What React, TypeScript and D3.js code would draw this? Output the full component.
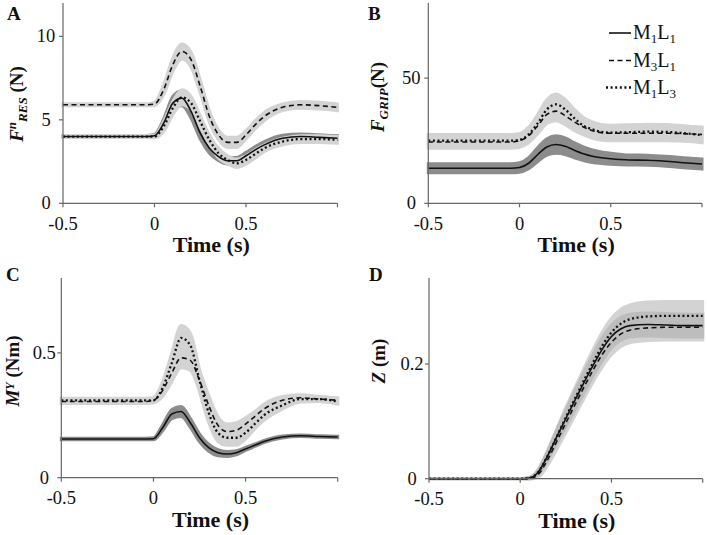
import React from "react";
import * as d3 from "d3";

const TIME = [-0.5, -0.05, 0, 0.05, 0.1, 0.15, 0.2, 0.25, 0.3, 0.35, 0.4, 0.45, 0.5, 0.55, 0.6, 0.7, 0.8, 0.9, 1.0];

// Panel A: F^n_RES (N)
const A_M1L1 = [4.0, 4.0, 4.05, 4.8, 6.0, 6.3, 5.5, 4.2, 3.3, 2.8, 2.55, 2.55, 2.85, 3.2, 3.5, 3.9, 4.0, 3.95, 3.9];
const A_M1L1_SD = [0.06, 0.06, 0.08, 0.25, 0.4, 0.45, 0.4, 0.35, 0.3, 0.25, 0.2, 0.2, 0.2, 0.2, 0.2, 0.18, 0.15, 0.15, 0.15];
const A_M3L1 = [5.9, 5.9, 5.95, 6.8, 8.3, 9.1, 8.6, 7.0, 5.2, 4.1, 3.65, 3.65, 4.1, 4.7, 5.2, 5.75, 5.9, 5.85, 5.75];
const A_M3L1_SD = [0.06, 0.06, 0.1, 0.3, 0.4, 0.45, 0.45, 0.4, 0.35, 0.3, 0.3, 0.3, 0.25, 0.25, 0.25, 0.2, 0.2, 0.2, 0.2];
const A_M1L3 = [4.0, 4.0, 4.0, 4.6, 5.7, 6.35, 6.0, 4.9, 3.8, 3.0, 2.6, 2.4, 2.6, 2.95, 3.3, 3.7, 3.85, 3.85, 3.8];
const A_M1L3_SD = [0.06, 0.06, 0.08, 0.3, 0.4, 0.45, 0.4, 0.35, 0.3, 0.3, 0.25, 0.25, 0.25, 0.25, 0.2, 0.2, 0.2, 0.2, 0.2];

// Panel B: F_GRIP (N)
const B_M1L1 = [14, 14, 14.3, 16, 19.5, 22.5, 23.5, 22.8, 21.2, 19.8, 18.8, 18.2, 17.8, 17.5, 17.3, 17.2, 16.8, 16.2, 15.7];
const B_M1L1_SD = [1.8, 1.8, 1.9, 2.2, 2.8, 3.3, 3.5, 3.3, 3.0, 2.7, 2.5, 2.3, 2.2, 2.1, 2.0, 2.0, 2.0, 2.0, 2.0];
const B_M3L1 = [24.5, 24.5, 25, 27, 31, 35.5, 36.8, 35, 32.5, 30.5, 29, 28.2, 28, 28, 28, 28, 28, 27.8, 27.5];
const B_M3L1_SD = [2.5, 2.5, 2.6, 2.8, 3.2, 3.6, 3.8, 3.6, 3.4, 3.2, 3.0, 3.0, 3.0, 3.0, 3.0, 3.0, 3.0, 3.0, 3.0];
const B_M1L3 = [25, 25, 25.3, 27.5, 32, 37.5, 39.5, 37.5, 34, 31, 29.5, 28.5, 28.2, 28.3, 28.4, 28.6, 28.5, 28, 27.2];
const B_M1L3_SD = [2.5, 2.5, 2.6, 3.0, 3.5, 4.0, 4.2, 4.0, 3.6, 3.3, 3.0, 3.0, 3.0, 3.0, 3.0, 3.0, 3.0, 3.0, 3.0];

// Panel C: M^Y (Nm)
const C_M1L1 = [0.155, 0.155, 0.156, 0.2, 0.255, 0.265, 0.22, 0.16, 0.12, 0.1, 0.095, 0.1, 0.115, 0.13, 0.145, 0.163, 0.168, 0.165, 0.163];
const C_M1L1_SD = [0.003, 0.003, 0.004, 0.012, 0.018, 0.02, 0.018, 0.016, 0.014, 0.012, 0.01, 0.008, 0.006, 0.005, 0.004, 0.004, 0.003, 0.003, 0.003];
const C_M3L1 = [0.305, 0.305, 0.31, 0.35, 0.42, 0.48, 0.47, 0.39, 0.29, 0.21, 0.185, 0.19, 0.215, 0.245, 0.275, 0.31, 0.32, 0.315, 0.31];
const C_M3L1_SD = [0.008, 0.008, 0.01, 0.025, 0.035, 0.04, 0.04, 0.04, 0.04, 0.035, 0.03, 0.03, 0.025, 0.02, 0.02, 0.015, 0.012, 0.01, 0.01];
const C_M1L3 = [0.31, 0.31, 0.31, 0.36, 0.46, 0.56, 0.53, 0.39, 0.26, 0.18, 0.16, 0.16, 0.18, 0.215, 0.25, 0.29, 0.315, 0.315, 0.305];
const C_M1L3_SD = [0.008, 0.008, 0.01, 0.025, 0.04, 0.05, 0.05, 0.045, 0.04, 0.035, 0.03, 0.03, 0.025, 0.02, 0.02, 0.015, 0.012, 0.01, 0.01];

// Panel D: Z (m)
const D_M1L1 = [0, 0, 0, 0.001, 0.012, 0.04, 0.073, 0.105, 0.137, 0.168, 0.198, 0.226, 0.248, 0.261, 0.267, 0.269, 0.268, 0.267, 0.267];
const D_M1L1_SD = [0, 0, 0, 0.001, 0.004, 0.008, 0.012, 0.015, 0.017, 0.018, 0.019, 0.02, 0.02, 0.02, 0.02, 0.02, 0.02, 0.02, 0.02];
const D_M3L1 = [0, 0, 0, 0, 0.008, 0.033, 0.065, 0.097, 0.129, 0.16, 0.19, 0.217, 0.238, 0.252, 0.259, 0.263, 0.264, 0.264, 0.264];
const D_M3L1_SD = [0, 0, 0, 0.001, 0.005, 0.01, 0.014, 0.017, 0.019, 0.02, 0.021, 0.022, 0.022, 0.022, 0.022, 0.022, 0.022, 0.022, 0.022];
const D_M1L3 = [0, 0, 0, 0.001, 0.012, 0.04, 0.073, 0.107, 0.14, 0.172, 0.203, 0.232, 0.255, 0.27, 0.278, 0.283, 0.284, 0.284, 0.284];
const D_M1L3_SD = [0, 0, 0, 0.001, 0.005, 0.01, 0.014, 0.017, 0.019, 0.021, 0.023, 0.024, 0.025, 0.025, 0.025, 0.025, 0.025, 0.025, 0.025];

const X_TICKS = [-0.5, 0, 0.5, 1.0];
const X_TICK_LABELS = ["-0.5", "0", "0.5", ""];
const LEGEND_NAMES = [["M", "1", "L", "1"], ["M", "3", "L", "1"], ["M", "1", "L", "3"]];

const FONT = "'Liberation Serif', 'Times New Roman', serif";
const LIGHT = "#d3d3d3";
const DARK = "#8c8c8c";
const MID = "#bdbdbd";

type Style = "solid" | "dashed" | "dotted";
type Series = { values: number[]; sd: number[]; style: Style; band: string };

const STYLE: Record<Style, { dash?: string; width: number }> = {
  solid: { width: 1.6 },
  dashed: { dash: "5,3.5", width: 1.6 },
  dotted: { dash: "2,2.6", width: 2.3 },
};

type PanelDef = {
  letter: string;
  left: number;
  right: number;
  top: number;
  bottom: number;
  yDomain: [number, number];
  yTicks: number[];
  yTickLabels: string[];
  series: Series[];
  ylabel: React.ReactNode;
  ylabelX: number;
  ylabelY: number;
  letterX: number;
  letterY: number;
};

const PANELS: PanelDef[] = [
  {
    letter: "A", left: 63, right: 337.5, top: 3, bottom: 203.3,
    yDomain: [0, 12], yTicks: [0, 5, 10], yTickLabels: ["0", "5", "10"],
    series: [
      { values: A_M3L1, sd: A_M3L1_SD, style: "dashed", band: LIGHT },
      { values: A_M1L1, sd: A_M1L1_SD, style: "solid", band: DARK },
      { values: A_M1L3, sd: A_M1L3_SD, style: "dotted", band: LIGHT },
    ],
    ylabel: (
      <>
        <tspan fontStyle="italic">F</tspan>
        <tspan fontStyle="italic" fontSize={13} dy={-7}>n</tspan>
        <tspan fontStyle="italic" fontSize={13} dy={11}>RES</tspan>
        <tspan dy={-4}> (N)</tspan>
      </>
    ),
    ylabelX: 23, ylabelY: 104, letterX: 7, letterY: 20,
  },
  {
    letter: "B", left: 428.3, right: 702, top: 3, bottom: 203.3,
    yDomain: [0, 80], yTicks: [0, 50], yTickLabels: ["0", "50"],
    series: [
      { values: B_M1L1, sd: B_M1L1_SD, style: "solid", band: DARK },
      { values: B_M3L1, sd: B_M3L1_SD, style: "dashed", band: LIGHT },
      { values: B_M1L3, sd: B_M1L3_SD, style: "dotted", band: LIGHT },
    ],
    ylabel: (
      <>
        <tspan fontStyle="italic">F</tspan>
        <tspan fontStyle="italic" fontSize={13} dy={4}>GRIP</tspan>
        <tspan dy={-4}>(N)</tspan>
      </>
    ),
    ylabelX: 384, ylabelY: 97, letterX: 368, letterY: 20,
  },
  {
    letter: "C", left: 61.3, right: 337.7, top: 278, bottom: 477.7,
    yDomain: [0, 0.8], yTicks: [0, 0.5], yTickLabels: ["0", "0.5"],
    series: [
      { values: C_M1L1, sd: C_M1L1_SD, style: "solid", band: DARK },
      { values: C_M3L1, sd: C_M3L1_SD, style: "dashed", band: LIGHT },
      { values: C_M1L3, sd: C_M1L3_SD, style: "dotted", band: LIGHT },
    ],
    ylabel: (
      <>
        <tspan fontStyle="italic">M</tspan>
        <tspan fontStyle="italic" fontSize={12} dy={-5}>Y</tspan>
        <tspan dy={5}> (Nm)</tspan>
      </>
    ),
    ylabelX: 19, ylabelY: 371, letterX: 6, letterY: 281,
  },
  {
    letter: "D", left: 429, right: 702.7, top: 278, bottom: 478.7,
    yDomain: [0, 0.35], yTicks: [0, 0.2], yTickLabels: ["0", "0.2"],
    series: [
      { values: D_M3L1, sd: D_M3L1_SD, style: "dashed", band: LIGHT },
      { values: D_M1L3, sd: D_M1L3_SD, style: "dotted", band: LIGHT },
      { values: D_M1L1, sd: D_M1L1_SD, style: "solid", band: MID },
    ],
    ylabel: (
      <>
        <tspan fontStyle="italic">Z</tspan>
        <tspan> (m)</tspan>
      </>
    ),
    ylabelX: 385, ylabelY: 361, letterX: 369, letterY: 281,
  },
];

function Panel({ p }: { p: PanelDef }) {
  const x = d3.scaleLinear().domain([-0.5, 1.0]).range([p.left, p.right]);
  const y = d3.scaleLinear().domain(p.yDomain).range([p.bottom, p.top]);
  const axisColor = "#666";
  return (
    <g>
      {p.series.map((s, k) => {
        const area = d3
          .area<number>()
          .x((_, i) => x(TIME[i]))
          .y0((v, i) => y(v - s.sd[i]))
          .y1((v, i) => y(v + s.sd[i]))
          .curve(d3.curveMonotoneX);
        return <path key={"b" + k} d={area(s.values) || ""} fill={s.band} stroke={s.band} strokeWidth={3} />;
      })}
      {p.series.map((s, k) => {
        const line = d3
          .line<number>()
          .x((_, i) => x(TIME[i]))
          .y((v) => y(v))
          .curve(d3.curveMonotoneX);
        const st = STYLE[s.style];
        return (
          <path key={"l" + k} d={line(s.values) || ""} fill="none" stroke="#111"
            strokeWidth={st.width} strokeDasharray={st.dash} />
        );
      })}
      <line x1={p.left} x2={p.left} y1={p.top} y2={p.bottom} stroke={axisColor} strokeWidth={1.2} />
      <line x1={p.left} x2={p.right} y1={p.bottom} y2={p.bottom} stroke={axisColor} strokeWidth={1.2} />
      {X_TICKS.map((t, i) => (
        <g key={"xt" + i}>
          <line x1={x(t)} x2={x(t)} y1={p.bottom} y2={p.bottom + 4} stroke={axisColor} strokeWidth={1.2} />
          <text x={x(t)} y={p.bottom + 26.5} textAnchor="middle" fontSize={18.5} fontFamily={FONT} fill="#111">
            {X_TICK_LABELS[i]}
          </text>
        </g>
      ))}
      {p.yTicks.map((t, i) => (
        <g key={"yt" + i}>
          <line x1={p.left - 4} x2={p.left} y1={y(t)} y2={y(t)} stroke={axisColor} strokeWidth={1.2} />
          <text x={p.left - 17} y={y(t) + 6} textAnchor="middle" fontSize={18.5} fontFamily={FONT} fill="#111">
            {p.yTickLabels[i]}
          </text>
        </g>
      ))}
      <text x={(p.left + p.right) / 2 + 11} y={p.bottom + 49} textAnchor="middle" fontSize={22}
        fontWeight="bold" fontFamily={FONT} fill="#111">
        Time (s)
      </text>
      <text transform={`translate(${p.ylabelX},${p.ylabelY}) rotate(-90)`} textAnchor="middle"
        fontSize={19} fontWeight="bold" fontFamily={FONT} fill="#111">
        {p.ylabel}
      </text>
      <text x={p.letterX} y={p.letterY} fontSize={19} fontWeight="bold" fontFamily={FONT} fill="#111">
        {p.letter}
      </text>
    </g>
  );
}

function Legend() {
  const styles: Style[] = ["solid", "dashed", "dotted"];
  const ys = [33, 60.5, 87.5];
  return (
    <g>
      {styles.map((s, i) => {
        const st = STYLE[s];
        const n = LEGEND_NAMES[i];
        return (
          <g key={i}>
            <line x1={s === "dotted" ? 606 : 609} x2={631} y1={ys[i]} y2={ys[i]} stroke="#111"
              strokeWidth={st.width} strokeDasharray={st.dash} />
            <text x={633} y={ys[i] + 6} fontSize={20} fontFamily={FONT} fill="#111">
              <tspan>{n[0]}</tspan>
              <tspan fontSize={13} dy={4}>{n[1]}</tspan>
              <tspan dy={-4}>{n[2]}</tspan>
              <tspan fontSize={13} dy={4}>{n[3]}</tspan>
            </text>
          </g>
        );
      })}
    </g>
  );
}

export default function App() {
  return (
    <svg width={707} height={535} style={{ position: "absolute", left: 0, top: 0, background: "#fff" }}>
      <rect width={707} height={535} fill="#fff" />
      {PANELS.map((p) => (
        <Panel key={p.letter} p={p} />
      ))}
      <Legend />
    </svg>
  );
}
